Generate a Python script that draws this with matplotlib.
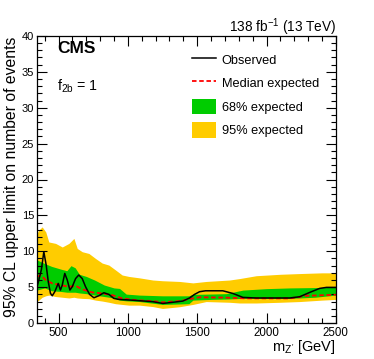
import matplotlib
matplotlib.use("Agg")
import matplotlib.pyplot as plt
from matplotlib.ticker import MultipleLocator
from matplotlib.patches import Patch
from matplotlib.lines import Line2D

plt.rcParams['font.family'] = ['Liberation Sans', 'DejaVu Sans']
plt.rcParams['mathtext.fontset'] = 'custom'
plt.rcParams['mathtext.rm'] = 'Liberation Sans'
plt.rcParams['mathtext.it'] = 'Liberation Sans'

obs_mass = [345, 358, 377, 394, 411, 426, 442, 455, 473, 498, 514, 527, 545, 563, 582, 599, 623, 646, 671, 695,
            724, 755, 791, 827, 863, 899, 935, 1056, 1180, 1252, 1325, 1397, 1445, 1481, 1517, 1560, 1685, 1757,
            1830, 1926, 2167, 2239, 2311, 2383, 2431, 2500]
obs_val = [5.0, 6.0, 7.5, 9.94, 8.08, 5.76, 4.14, 3.81, 4.37, 5.53, 4.6, 5.3, 6.92, 6.0, 4.6, 5.06, 6.2, 6.7, 6.2, 5.06,
           4.0, 3.53, 3.81, 4.23, 4.0, 3.44, 3.3, 3.16, 2.98, 2.74, 2.9, 3.07, 3.5, 4.0, 4.37, 4.5, 4.5, 4.13,
           3.58, 3.5, 3.5, 3.67, 4.27, 4.83, 4.97, 4.97]

exp_mass = [345, 372, 408, 455, 514, 575, 623, 671, 743, 815, 887, 959, 1056, 1180, 1250, 1373, 1445, 1517, 1700,
            1850, 2167, 2287, 2500]
exp_val = [6.45, 6.7, 6.0, 5.53, 5.3, 5.06, 5.2, 4.7, 4.28, 4.14, 3.9, 3.44, 3.2, 3.07, 2.9, 3.07, 3.35, 3.6, 3.55,
           3.45, 3.44, 3.8, 3.95]

b95_mass = [345, 358, 382, 408, 430, 479, 527, 575, 611, 635, 671, 719, 767, 815, 863, 911, 959, 1007, 1084, 1180,
            1250, 1373, 1469, 1565, 1733, 1805, 1926, 2100, 2239, 2400, 2500]
b95_hi = [12.5, 12.96, 13.4, 12.7, 11.3, 11.1, 10.6, 11.1, 11.8, 10.4, 9.94, 9.7, 9.0, 8.36, 8.08, 7.4, 6.7, 6.5,
          6.3, 6.0, 5.9, 5.8, 5.6, 5.8, 6.0, 6.2, 6.6, 6.8, 6.9, 7.0, 7.0]
b95_lo = [3.0, 3.2, 3.6, 3.8, 3.9, 3.7, 3.6, 3.5, 3.6, 3.5, 3.44, 3.4, 3.2, 3.07, 2.9, 2.7, 2.6, 2.5, 2.5, 2.3,
          2.04, 2.28, 2.6, 3.0, 2.9, 2.8, 2.8, 2.9, 3.0, 3.2, 3.3]

b68_mass = [345, 400, 450, 520, 560, 590, 620, 650, 700, 760, 830, 900, 940, 988, 1084, 1250, 1440, 1469, 1600,
            1709, 1830, 2000, 2167, 2350, 2500]
b68_hi = [8.8, 8.3, 7.9, 7.5, 7.3, 8.0, 7.7, 6.8, 6.5, 6.0, 5.3, 4.9, 4.83, 4.04, 3.9, 3.8, 3.8, 4.0, 4.05, 4.1,
          4.6, 4.8, 4.9, 4.95, 5.0]
b68_lo = [4.6, 4.9, 4.5, 4.4, 4.3, 4.3, 4.3, 4.2, 4.1, 3.9, 3.7, 3.5, 3.2, 3.1, 3.0, 2.6, 2.7, 3.2, 3.3, 3.35,
          3.44, 3.44, 3.44, 3.6, 3.9]

fig = plt.figure(figsize=(3.74, 3.59), dpi=100)
ax = fig.add_axes([0.099, 0.100, 0.799, 0.800])

c95 = '#ffcc00'
c68 = '#00cc00'
ax.fill_between(b95_mass, b95_lo, b95_hi, color=c95, lw=0)
ax.fill_between(b68_mass, b68_lo, b68_hi, color=c68, lw=0)
ax.plot(exp_mass, exp_val, color='red', ls=(0, (2.5, 1.5)), lw=1.3)
ax.plot(obs_mass, obs_val, color='black', lw=1.1)

ax.set_xlim(345, 2500)
ax.set_ylim(0, 40)
ax.xaxis.set_major_locator(MultipleLocator(500))
ax.xaxis.set_minor_locator(MultipleLocator(100))
ax.yaxis.set_major_locator(MultipleLocator(5))
ax.yaxis.set_minor_locator(MultipleLocator(1))
ax.tick_params(which='both', direction='in', top=True, right=True, labelsize=8.3, width=0.8, pad=2.5)
ax.tick_params(axis='y', which='both', labelsize=8.0, pad=2.2)
ax.tick_params(which='major', length=7)
ax.tick_params(which='minor', length=3.5)
for s in ax.spines.values():
    s.set_linewidth(0.9)

fig.text(11.5 / 374, 1 - 177 / 359, '95% CL upper limit on number of events', rotation=90,
         fontsize=11.3, ha='center', va='center')
fig.text(336 / 374, 1 - 347 / 359, "m$_{Z'}$ [GeV]", fontsize=10.5, ha='right', va='center')

ax.text(0.067, 0.956, 'CMS', transform=ax.transAxes, fontsize=12.5, fontweight='bold', va='center', ha='left')
ax.text(0.067, 0.825, 'f$_{2b}$ = 1', transform=ax.transAxes, fontsize=10.3, va='center', ha='left')
ax.text(1.0, 1.014, '138 fb$^{-1}$ (13 TeV)', transform=ax.transAxes, fontsize=9.8, va='baseline', ha='right')

handles = [Line2D([], [], color='black', lw=1.1),
           Line2D([], [], color='red', ls=(0, (2.5, 1.5)), lw=1.3),
           Patch(facecolor=c68, edgecolor='none'),
           Patch(facecolor=c95, edgecolor='none')]
labels = ['Observed', 'Median expected', '68% expected', '95% expected']
leg = ax.legend(handles, labels, loc='upper left', bbox_to_anchor=(0.518, 0.944), frameon=False,
                fontsize=9.2, handlelength=1.9, handleheight=1.45, labelspacing=0.65, handletextpad=0.45,
                borderaxespad=0, borderpad=0)

fig.savefig('out.png', dpi=100)
